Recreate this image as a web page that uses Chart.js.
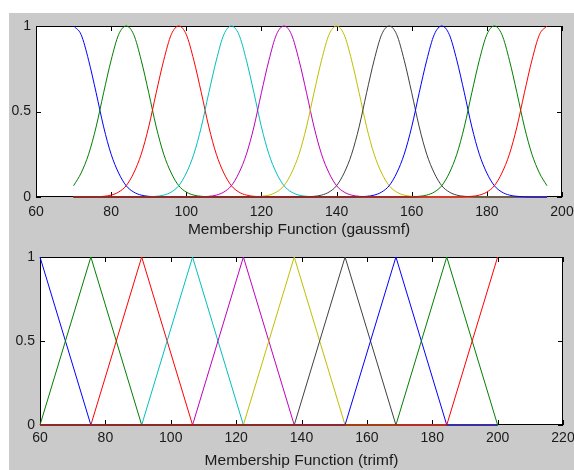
<!DOCTYPE html>
<html>
<head>
<meta charset="utf-8">
<script src="https://cdn.jsdelivr.net/npm/chart.js@4"></script>
<style>
  html, body { margin: 0; padding: 0; width: 574px; height: 470px; overflow: hidden; background: #fff; }
  #bg { position: absolute; left: 9px; top: 13px; right: 0; bottom: 0; background: #cacaca; }
  canvas { position: absolute; left: 9px; }
  #gaussChart { top: 13px; }
  #triChart { top: 235px; }
</style>
</head>
<body>
<div id="bg"></div>
<canvas id="gaussChart" width="565" height="226"></canvas>
<canvas id="triChart" width="565" height="235"></canvas>
<script>
// --- data ---
const lineColors = ['#0000ff', '#008000', '#ff0000', '#00bfbf', '#bf00bf', '#bfbf00', '#404040', '#0000ff', '#008000', '#ff0000'];

// gaussmf: centres and the shared bell profile (offset from centre -> membership)
const gaussCenters = [70, 84, 98, 112, 126, 140, 154, 168, 182, 196];
const gaussOffsets = [0, 2, 4, 6, 8, 10, 12, 14, 16, 18, 20, 22, 24];
const gaussValues  = [1, 0.95, 0.80, 0.61, 0.41, 0.25, 0.14, 0.066, 0.029, 0.011, 0.004, 0.001, 0];
const gaussRange = [70, 196];

// trimf: [left foot, peak, right foot]
const trimfParams = [
    [44.44, 60, 75.56],
    [60, 75.56, 91.11],
    [75.56, 91.11, 106.67],
    [91.11, 106.67, 122.22],
    [106.67, 122.22, 137.78],
    [122.22, 137.78, 153.33],
    [137.78, 153.33, 168.89],
    [153.33, 168.89, 184.44],
    [168.89, 184.44, 200],
    [184.44, 200, 215.56]
];
const trimfRange = [60, 200];

const xTicksTop = [60, 80, 100, 120, 140, 160, 180, 200];
const xTicksBottom = [60, 80, 100, 120, 140, 160, 180, 200, 220];
const yTicks = [0, 0.5, 1];
const yTickLabels = ['0', '0.5', '1'];

// build point lists
function gaussPoints(c) {
    const pts = [];
    const lo = gaussRange[0], hi = gaussRange[1];
    for (let i = gaussOffsets.length - 1; i > 0; i--) {
        const x = c - gaussOffsets[i];
        if (x >= lo) pts.push({ x: x, y: gaussValues[i] });
    }
    for (let i = 0; i < gaussOffsets.length; i++) {
        const x = c + gaussOffsets[i];
        if (x <= hi) pts.push({ x: x, y: gaussValues[i] });
    }
    if (pts[0].x > lo) pts.unshift({ x: lo, y: 0 });
    if (pts[pts.length - 1].x < hi) pts.push({ x: hi, y: 0 });
    return pts;
}

function triPoints(p) {
    const pts = [];
    const lo = trimfRange[0], hi = trimfRange[1];
    if (p[0] > lo) pts.push({ x: lo, y: 0 });
    if (p[0] >= lo) pts.push({ x: p[0], y: 0 });
    pts.push({ x: p[1], y: 1 });
    if (p[2] <= hi) pts.push({ x: p[2], y: 0 });
    if (p[2] < hi) pts.push({ x: hi, y: 0 });
    return pts;
}

// white axes box, black frame and inward MATLAB-style ticks
const matlabAxes = {
    id: 'matlabAxes',
    beforeDatasetsDraw(chart, args, opts) {
        const { ctx, chartArea: a, scales: { x, y } } = chart;
        ctx.save();
        ctx.fillStyle = '#fff';
        ctx.fillRect(a.left, a.top, a.right - a.left, a.bottom - a.top);
        ctx.strokeStyle = '#000';
        ctx.lineWidth = 1;
        ctx.strokeRect(a.left + 0.5, a.top + 0.5, a.right - a.left - 1, a.bottom - a.top - 1);
        ctx.beginPath();
        opts.xTicks.forEach(v => {
            const px = Math.round(x.getPixelForValue(v)) + 0.5;
            ctx.moveTo(px, a.bottom); ctx.lineTo(px, a.bottom - 5);
            ctx.moveTo(px, a.top); ctx.lineTo(px, a.top + 5);
        });
        yTicks.forEach(v => {
            const py = Math.round(y.getPixelForValue(v)) + 0.5;
            ctx.moveTo(a.left, py); ctx.lineTo(a.left + 5, py);
            ctx.moveTo(a.right, py); ctx.lineTo(a.right - 5, py);
        });
        ctx.stroke();
        ctx.restore();
    }
};

const tickFont = { family: "Arial, 'Liberation Sans', sans-serif", size: 14 };
const titleFont = { family: "Arial, 'Liberation Sans', sans-serif", size: 15.5 };
const textColor = '#1a1a1a';

function makeChart(id, datasets, cfg) {
    return new Chart(document.getElementById(id), {
        type: 'line',
        data: { datasets: datasets },
        options: {
            responsive: false,
            devicePixelRatio: 1,
            animation: false,
            layout: { padding: cfg.padding },
            plugins: {
                legend: { display: false },
                tooltip: { enabled: false },
                matlabAxes: { xTicks: cfg.xTicks }
            },
            elements: { point: { radius: 0 } },
            scales: {
                x: {
                    type: 'linear',
                    min: cfg.xTicks[0],
                    max: cfg.xTicks[cfg.xTicks.length - 1],
                    grid: { display: false, drawTicks: false },
                    border: { display: false },
                    ticks: { stepSize: 20, autoSkip: false, maxRotation: 0, padding: cfg.xPad, font: tickFont, color: textColor },
                    title: { display: true, text: cfg.title, font: titleFont, color: textColor, padding: 0 },
                    afterFit(s) { s.height = cfg.xHeight; s.paddingLeft = 0; s.paddingRight = 0; }
                },
                y: {
                    min: 0,
                    max: 1,
                    grid: { display: false, drawTicks: false },
                    border: { display: false },
                    ticks: {
                        stepSize: 0.5, padding: 5, font: tickFont, color: textColor,
                        callback: v => yTickLabels[yTicks.indexOf(v)]
                    },
                    afterFit(s) { s.width = cfg.yWidth; s.paddingTop = 0; s.paddingBottom = 0; }
                }
            }
        },
        plugins: [matlabAxes]
    });
}

const gaussSets = gaussCenters.map((c, i) => ({
    data: gaussPoints(c),
    borderColor: lineColors[i],
    borderWidth: 1,
    cubicInterpolationMode: 'monotone',
    clip: 3,
    order: gaussCenters.length - i
}));

const triSets = trimfParams.map((p, i) => ({
    data: triPoints(p),
    borderColor: lineColors[i],
    borderWidth: 1,
    tension: 0,
    clip: 3,
    order: trimfParams.length - i
}));

makeChart('gaussChart', gaussSets, {
    padding: { left: 0, right: 12, top: 13, bottom: 0 },
    xTicks: xTicksTop, xPad: 7, xHeight: 42, yWidth: 27,
    title: 'Membership Function (gaussmf)'
});

makeChart('triChart', triSets, {
    padding: { left: 0, right: 11, top: 22, bottom: 0 },
    xTicks: xTicksBottom, xPad: 5, xHeight: 45, yWidth: 31,
    title: 'Membership Function (trimf)'
});
</script>
</body>
</html>
